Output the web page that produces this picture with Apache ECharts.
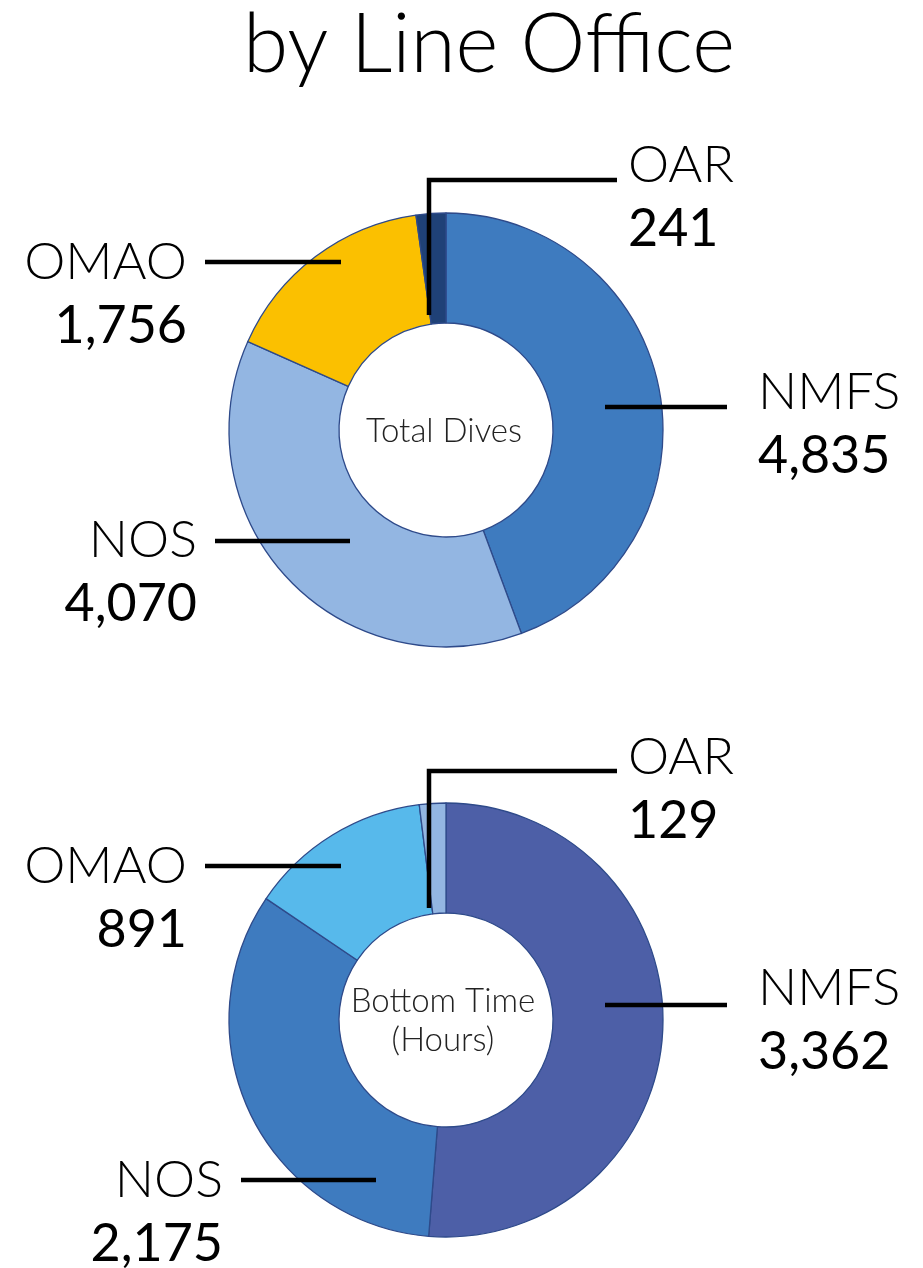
<!DOCTYPE html>
<html>
<head>
<meta charset="utf-8">
<script src="https://cdn.jsdelivr.net/npm/echarts@6/dist/echarts.min.js"></script>
<style>
  html, body { margin: 0; padding: 0; background: #fff; }
  #main { width: 923px; height: 1268px; }
</style>
</head>
<body>
<div id="main"></div>
<script>
// data
var offices = ['NMFS', 'NOS', 'OMAO', 'OAR'];
var totalDives = [4835, 4070, 1756, 241];
var bottomHours = [3362, 2175, 891, 129];

var divesColors = ['#3e7bbf', '#93b6e2', '#fbc000', '#1f4177'];
var hoursColors = ['#4d5fa7', '#3e7bbf', '#57b9eb', '#93b6e2'];

// hand placed labels, like the original layout
var divesLabelPos = [
    {x: 758, y: 424, align: 'left', line: [[605, 407], [727, 407]]},
    {x: 197, y: 572, align: 'right', line: [[350, 541], [215, 541]]},
    {x: 187, y: 294, align: 'right', line: [[341, 262], [205, 262]]},
    {x: 628, y: 197, align: 'left', line: [[429, 315], [429, 180], [617, 180]]}
];
var hoursLabelPos = [
    {x: 758, y: 1020, align: 'left', line: [[605, 1005], [727, 1005]]},
    {x: 223, y: 1212, align: 'right', line: [[376, 1180], [241, 1180]]},
    {x: 187, y: 898, align: 'right', line: [[341, 866], [205, 866]]},
    {x: 628, y: 789, align: 'left', line: [[429, 908], [429, 771], [617, 771]]}
];

var FONT = 'Lato';

function buildData(values, colors){
    var arr = [];
    values.forEach(function(v, i){
        arr.push({name: offices[i], value: v, itemStyle: {color: colors[i]}});
    });
    return arr;
}

// the ring itself
function makeRing(values, colors, center){
    return {
        type: 'pie',
        center: center,
        radius: [107, 217],
        startAngle: 90,
        silent: true,
        z: 2,
        itemStyle: {borderColor: '#2e4a8a', borderWidth: 1.3},
        label: {show: false},
        labelLine: {show: false},
        data: buildData(values, colors)
    };
}

// same pie again, invisible, only to put labels + lines on top of the ring
function makeLabels(values, center, pos){
    return {
        type: 'pie',
        center: center,
        radius: [107, 217],
        startAngle: 90,
        silent: true,
        z: 5,
        itemStyle: {color: 'rgba(0,0,0,0)', borderWidth: 0},
        label: {
            show: true,
            formatter: function(p){
                return '{n|' + p.name + '}\n{v|' + p.value.toLocaleString('en-US') + '}';
            },
            rich: {
                n: {fontFamily: FONT, fontWeight: 300, fontSize: 52, lineHeight: 64, color: '#000'},
                v: {fontFamily: FONT, fontWeight: 400, fontSize: 52, lineHeight: 64, color: '#000'}
            }
        },
        labelLine: {show: true, lineStyle: {color: '#000', width: 4.5}},
        labelLayout: function(params){
            var p = pos[params.dataIndex];
            return {
                x: p.x,
                y: p.y,
                align: p.align,
                verticalAlign: 'middle',
                labelLinePoints: p.line
            };
        },
        data: values.map(function(v, i){ return {name: offices[i], value: v}; })
    };
}

var myChart = echarts.init(document.getElementById('main'));

var option = {
    animation: false,
    title: [
        {
            text: 'by Line Office',
            left: 484, top: 0, textAlign: 'center',
            textStyle: {fontFamily: FONT, fontWeight: 300, fontSize: 82, color: '#000'}
        },
        {
            text: 'Total Dives',
            left: 439, top: 410, textAlign: 'center',
            textStyle: {fontFamily: FONT, fontWeight: 300, fontSize: 33, color: '#222'}
        },
        {
            text: 'Bottom Time\n(Hours)',
            left: 438, top: 977, textAlign: 'center',
            textStyle: {fontFamily: FONT, fontWeight: 300, fontSize: 33, lineHeight: 39, color: '#222'}
        }
    ],
    series: [
        makeRing(totalDives, divesColors, [446, 430]),
        makeRing(bottomHours, hoursColors, [446, 1020]),
        makeLabels(totalDives, [446, 430], divesLabelPos),
        makeLabels(bottomHours, [446, 1020], hoursLabelPos)
    ]
};

myChart.setOption(option);
</script>
</body>
</html>
